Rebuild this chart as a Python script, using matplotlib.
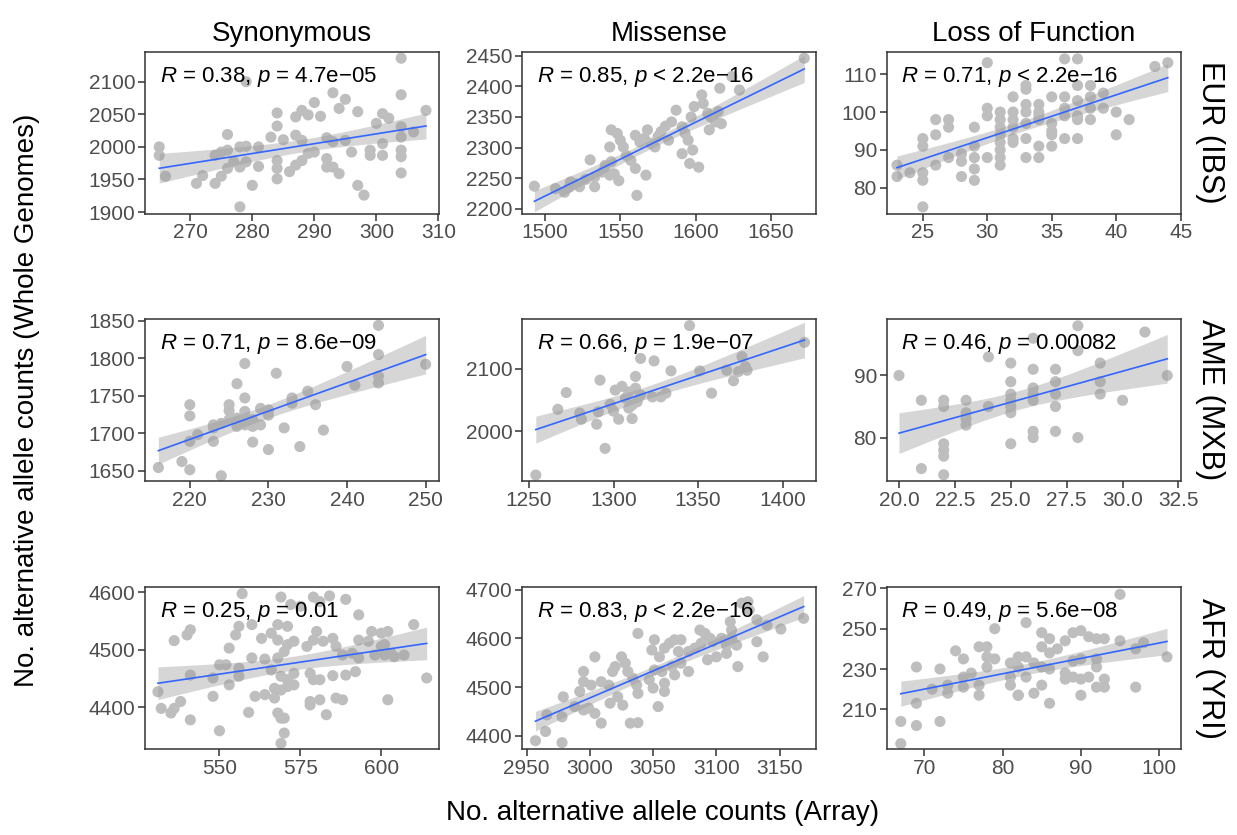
import numpy as np
import matplotlib
matplotlib.use("Agg")
import matplotlib.pyplot as plt
from matplotlib.ticker import FixedLocator, FormatStrFormatter

plt.rcParams['font.family'] = ['Liberation Sans', 'DejaVu Sans']
plt.rcParams['mathtext.fontset'] = 'custom'
plt.rcParams['mathtext.it'] = 'Liberation Sans:italic'
plt.rcParams['mathtext.rm'] = 'Liberation Sans'

# ---------------- data ----------------
columns = ["Synonymous", "Missense", "Loss of Function"]
rows = ["EUR (IBS)", "AME (MXB)", "AFR (YRI)"]

eur_syn = [(304,2136),(279,2100),(293,2083),(304,2080),(295,2073),(290,2068),(294,2059),(297,2054),(308,2056),(284,2052),
           (288,2056),(287,2046),(289,2049),(291,2047),(301,2051),(302,2044),(300,2036),(284,2032),(276,2019),(283,2015),
           (285,2011),(287,2018),(288,2010),(292,2014),(293,2008),(295,2010),(296,1992),(299,1995),(299,1987),(301,2005),
           (301,1987),(304,2031),(304,2015),(304,1995),(304,1985),(304,1960),(306,2023),(265,2000),(265,1987),(266,1955),
           (271,1944),(272,1956),(274,1944),(275,1955),(276,1967),(274,1987),(275,1992),(276,1995),(278,2000),(279,2001),
           (277,1977),(278,1969),(279,1977),(281,1970),(280,1941),(278,1908),(284,1967),(284,1951),(286,1962),(287,1972),
           (288,1979),(289,1990),(290,1992),(292,1982),(292,1969),(293,1969),(294,1959),(297,1941),(298,1926),(284,1979),
           (281,2000)]
eur_mis = [(1493,2237),(1507,2233),(1513,2227),(1516,2235),(1517,2244),(1520,2241),(1523,2236),(1527,2248),(1530,2280),
           (1533,2236),(1533,2252),(1538,2260),(1540,2271),(1543,2255),(1546,2257),(1549,2246),(1544,2277),(1544,2329),
           (1548,2323),(1550,2312),(1543,2301),(1552,2301),(1554,2287),(1557,2279),(1560,2266),(1561,2222),(1567,2255),
           (1560,2320),(1563,2309),(1566,2315),(1570,2307),(1568,2329),(1573,2301),(1575,2318),(1577,2326),(1580,2335),
           (1582,2312),(1584,2342),(1587,2361),(1591,2334),(1591,2290),(1593,2323),(1595,2312),(1596,2274),(1598,2296),
           (1602,2268),(1597,2350),(1599,2367),(1604,2386),(1605,2372),(1608,2356),(1609,2329),(1613,2342),(1615,2359),
           (1616,2397),(1624,2416),(1629,2394),(1617,2339),(1610,2350),(1672,2446)]
eur_lof = [(23,86),(23,83),(24,84),(25,84),(25,82),(25,75),(25,93),(25,91),(26,98),(26,94),(26,86),(27,98),(27,96),
           (27,88),(28,89),(28,87),(28,83),(29,96),(29,91),(29,88),(29,85),(29,82),(30,113),(30,101),(30,99),(30,88),
           (31,100),(31,98),(31,96),(31,94),(31,92),(31,90),(31,88),(31,86),(32,104),(32,100),(32,98),(32,96),(32,93),
           (32,92),(33,106),(33,102),(33,100),(33,97),(33,93),(33,88),(34,100),(34,99),(34,91),(34,88),(34,102),(34,98),
           (35,104),(35,97),(35,94),(35,91),(35,95),(36,114),(36,104),(36,101),(36,99),(36,93),(37,114),(37,107),(37,103),
           (37,99),(37,93),(37,98),(38,104),(38,101),(38,98),(38,107),(39,105),(39,101),(40,100),(41,98),(40,94),(43,112),
           (44,113),(33,107)]
ame_syn = [(244,1844),(244,1805),(244,1776),(244,1767),(240,1789),(241,1764),(250,1792),(231,1780),(227,1793),(226,1766),
           (227,1747),(225,1738),(225,1730),(220,1738),(220,1723),(227,1729),(227,1720),(229,1733),(230,1731),(230,1724),
           (233,1747),(233,1740),(235,1756),(236,1738),(232,1707),(237,1704),(234,1682),(230,1678),(228,1688),(223,1707),
           (223,1689),(220,1689),(221,1698),(223,1711),(224,1713),(225,1718),(226,1709),(227,1711),(228,1709),(229,1711),
           (226,1720),(228,1718),(216,1654),(219,1662),(220,1651),(224,1643)]
ame_mis = [(1254,1929),(1345,2170),(1267,2035),(1272,2062),(1280,2029),(1281,2019),(1290,2011),(1295,1972),(1292,2082),
           (1291,2031),(1298,2043),(1300,2032),(1303,2019),(1301,2066),(1305,2072),(1309,2063),(1313,2069),(1316,2058),
           (1307,2053),(1311,2042),(1314,2047),(1309,2037),(1311,2020),(1313,2088),(1316,2117),(1324,2113),(1323,2055),
           (1328,2055),(1331,2061),(1334,2097),(1351,2097),(1358,2061),(1367,2098),(1371,2081),(1374,2096),(1378,2104),
           (1379,2098),(1376,2120),(1413,2143)]
ame_lof = [(20,90),(21,86),(21,75),(22,86),(22,85),(22,79),(22,78),(22,77),(22,74),(23,86),(23,84),(23,83),(23,82),
           (24,93),(24,85),(25,92),(25,89),(25,87),(25,86),(25,85),(25,84),(25,79),(26,96),(26,91),(26,88),(26,87),(26,86),
           (26,81),(26,80),(27,91),(27,89),(27,87),(27,85),(27,81),(28,98),(28,94),(28,80),(29,92),(29,89),(29,87),(31,97),
           (32,90),(30,86)]
afr_syn = [(557,4598),(569,4592),(572,4579),(575,4576),(579,4592),(581,4584),(584,4594),(589,4588),(593,4561),(610,4544),
           (597,4532),(600,4529),(602,4532),(541,4535),(540,4526),(536,4516),(593,4517),(596,4515),(553,4503),(555,4526),
           (556,4541),(560,4544),(563,4520),(566,4529),(568,4544),(571,4541),(568,4517),(571,4509),(573,4515),(570,4497),
           (568,4486),(577,4506),(579,4517),(580,4532),(582,4515),(585,4520),(586,4506),(588,4491),(591,4494),(593,4486),
           (598,4491),(601,4491),(604,4488),(607,4491),(600,4506),(560,4486),(564,4484),(550,4474),(552,4474),(556,4468),
           (556,4454),(548,4451),(553,4439),(541,4456),(531,4427),(566,4465),(569,4454),(571,4448),(573,4459),(573,4439),
           (578,4459),(579,4448),(581,4448),(585,4455),(589,4456),(592,4462),(614,4451),(561,4419),(564,4422),(567,4433),
           (569,4430),(571,4436),(548,4419),(538,4410),(536,4398),(532,4398),(535,4390),(541,4378),(550,4359),(559,4391),
           (568,4390),(569,4381),(570,4381),(567,4416),(570,4355),(569,4337),(578,4404),(581,4413),(578,4410),(586,4416),
           (588,4413),(583,4387),(602,4413),(601,4509),(603,4494)]
afr_mis = [(2957,4390),(2978,4386),(2965,4409),(2966,4443),(2978,4439),(2979,4480),(2995,4532),(2995,4511),(2992,4491),
           (2988,4460),(2995,4453),(2999,4457),(3004,4446),(3009,4426),(3004,4562),(3001,4504),(3009,4511),(3015,4504),
           (3016,4467),(3022,4480),(3026,4463),(3018,4532),(3020,4542),(3025,4562),(3028,4549),(3030,4532),(3034,4518),
           (3037,4504),(3038,4487),(3032,4426),(3038,4427),(3038,4610),(3047,4515),(3050,4498),(3051,4535),(3057,4532),
           (3059,4508),(3054,4460),(3059,4491),(3049,4576),(3051,4597),(3055,4562),(3059,4580),(3063,4590),(3067,4597),
           (3072,4597),(3070,4573),(3065,4542),(3067,4525),(3078,4532),(3072,4549),(3078,4573),(3083,4580),(3087,4617),
           (3091,4610),(3095,4600),(3097,4593),(3088,4590),(3093,4556),(3100,4562),(3108,4586),(3112,4600),(3116,4586),
           (3117,4542),(3112,4617),(3120,4672),(3125,4675),(3126,4658),(3132,4593),(3137,4562),(3140,4627),(3132,4638),
           (3111,4634),(3104,4600),(3108,4569),(3169,4641),(3151,4619)]
afr_lof = [(67,204),(67,193),(69,202),(69,213),(72,204),(69,231),(71,220),(72,230),(73,222),(74,239),(73,218),(75,235),
           (75,226),(75,221),(76,228),(77,217),(77,222),(77,241),(78,236),(78,231),(79,250),(79,235),(78,241),(81,222),
           (82,217),(82,231),(82,236),(83,236),(83,226),(95,267),(97,221),(101,236),(98,243),(97,240),(95,244),(93,245),
           (92,245),(91,246),(90,249),(89,248),(88,244),(87,240),(86,245),(85,241),(83,253),(90,235),(89,234),(92,235),
           (92,231),(93,225),(93,221),(92,221),(91,226),(90,225),(89,226),(88,228),(86,230),(85,231),(84,233),(81,233),
           (81,226),(82,217),(84,218),(85,222),(86,213),(90,217),(88,225),(85,248),(86,238)]

panel_data = [[eur_syn, eur_mis, eur_lof], [ame_syn, ame_mis, ame_lof], [afr_syn, afr_mis, afr_lof]]

cor_labels = [["$R$ = 0.38, $p$ = 4.7e\u221205", "$R$ = 0.85, $p$ < 2.2e\u221216", "$R$ = 0.71, $p$ < 2.2e\u221216"],
              ["$R$ = 0.71, $p$ = 8.6e\u221209", "$R$ = 0.66, $p$ = 1.9e\u221207", "$R$ = 0.46, $p$ = 0.00082"],
              ["$R$ = 0.25, $p$ = 0.01", "$R$ = 0.83, $p$ < 2.2e\u221216", "$R$ = 0.49, $p$ = 5.6e\u221208"]]

xticks = [[[270, 280, 290, 300, 310], [1500, 1550, 1600, 1650], [25, 30, 35, 40, 45]],
          [[220, 230, 240, 250], [1250, 1300, 1350, 1400], [20.0, 22.5, 25.0, 27.5, 30.0, 32.5]],
          [[550, 575, 600], [2950, 3000, 3050, 3100, 3150], [70, 80, 90, 100]]]
yticks = [[[1900, 1950, 2000, 2050, 2100], [2200, 2250, 2300, 2350, 2400, 2450], [80, 90, 100, 110]],
          [[1650, 1700, 1750, 1800, 1850], [2000, 2100], [80, 90]],
          [[4400, 4500, 4600], [4400, 4500, 4600, 4700], [190, 210, 230, 250, 270]]]
xlims = [[(262.7, 310.1), (1485, 1680), (22.2, 45.0)],
         [(214.3, 251.7), (1246, 1420), (19.45, 32.6)],
         [(527, 617.8), (2946.6, 3179), (65.2, 102.75)]]
ylims = [[(1897.5, 2146), (2192, 2456.6), (73.2, 115.9)],
         [(1636, 1852.5), (1919.4, 2180.6), (73.0, 99.1)],
         [(4326.7, 4609), (4372.4, 4704.6), (190.2, 270.5)]]

# ---------------- figure ----------------
W, H = 1237, 835
fig = plt.figure(figsize=(W / 100, H / 100), dpi=100)
col_left = [145, 522.3, 886.7]
col_w = 294
row_top = [51.7, 319, 587.3]
row_h = 162

def tq(df):
    return 1.96 + 2.37 / df + 2.8 / df ** 2

for r in range(3):
    for c in range(3):
        ax = fig.add_axes([col_left[c] / W, 1 - (row_top[r] + row_h) / H, col_w / W, row_h / H])
        pts = np.array(panel_data[r][c], dtype=float)
        x, y = pts[:, 0], pts[:, 1]
        ax.scatter(x, y, s=64, color='#BEBEBE', edgecolors='none', zorder=2)
        # linear fit with 95% confidence band
        n = len(x)
        b, a = np.polyfit(x, y, 1)
        xs = np.linspace(x.min(), x.max(), 80)
        yhat = a + b * xs
        resid = y - (a + b * x)
        s = np.sqrt(np.sum(resid ** 2) / (n - 2))
        se = s * np.sqrt(1 / n + (xs - x.mean()) ** 2 / np.sum((x - x.mean()) ** 2))
        t = tq(n - 2)
        ax.fill_between(xs, yhat - t * se, yhat + t * se, color='#999999', alpha=0.4, lw=0, zorder=3)
        ax.plot(xs, yhat, color='#3366FF', lw=1.2, zorder=4)

        ax.set_xlim(*xlims[r][c])
        ax.set_ylim(*ylims[r][c])
        ax.xaxis.set_major_locator(FixedLocator(xticks[r][c]))
        ax.yaxis.set_major_locator(FixedLocator(yticks[r][c]))
        if r == 1 and c == 2:
            ax.xaxis.set_major_formatter(FormatStrFormatter('%.1f'))
        ax.tick_params(axis='both', direction='out', length=5, width=1.1, color='#333333',
                       labelcolor='#4D4D4D', labelsize=15, pad=2)
        for sp in ax.spines.values():
            sp.set_color('#333333')
            sp.set_linewidth(1.1)
        ax.text(0.05, 0.845, cor_labels[r][c], transform=ax.transAxes, ha='left', va='center',
                fontsize=16, color='black', zorder=5)
        if r == 0:
            ax.set_title(columns[c], fontsize=20, pad=8, color='black')
        if c == 2:
            ax.text(1.1, 0.5, rows[r], transform=ax.transAxes, rotation=-90, ha='center', va='center',
                    fontsize=22, color='black')

fig.text(663 / W, 1 - 813 / H, "No. alternative allele counts (Array)", ha='center', va='center', fontsize=20)
fig.text(27 / W, 1 - 400 / H, "No. alternative allele counts (Whole Genomes)", ha='center', va='center',
         rotation=90, fontsize=20)

fig.savefig("out.png", dpi=100)
